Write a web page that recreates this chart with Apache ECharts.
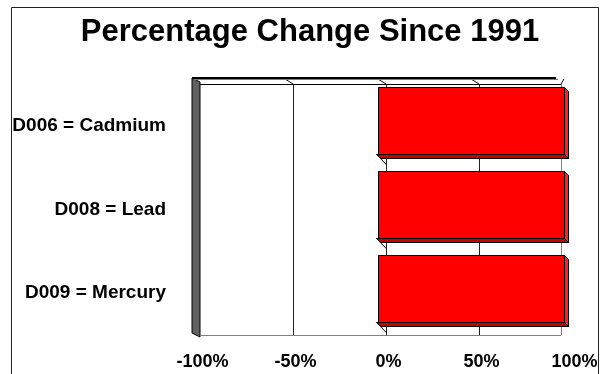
<!DOCTYPE html>
<html>
<head>
<meta charset="utf-8">
<script src="https://cdn.jsdelivr.net/npm/echarts@6/dist/echarts.min.js"></script>
<style>
  html, body { margin: 0; padding: 0; background: #fff; }
  #chart { width: 602px; height: 374px; }
</style>
</head>
<body>
<div id="chart"></div>
<script>
// Percentage change per constituent since 1991
const titleText = 'Percentage Change Since 1991';
const categories = ['D006 = Cadmium', 'D008 = Lead', 'D009 = Mercury'];
const changeValues = [100, 100, 100];
const tickValues = [-100, -50, 0, 50, 100];
const axisMin = -100;
const axisMax = 100;
const axisStep = 50;

const FONT = '"Liberation Sans", Arial, Helvetica, sans-serif';
// depth offset of the back plane of the pseudo-3D box
const DEPTH_X = 8, DEPTH_Y = 5;
// depth offset of the bar blocks
const BAR_DX = 4, BAR_DY = 4;

const chart = echarts.init(document.getElementById('chart'), null, { renderer: 'canvas' });

// snap to pixel centres so 1px lines stay crisp
function crisp(v) { return Math.round(v) + 0.5; }

// walls, floor edge and back gridlines of the box
function renderBox(params, api) {
  const band = api.size([0, 1])[1];
  const first = api.coord([axisMin, 0]);
  const last = api.coord([axisMin, categories.length - 1]);
  const top = Math.round(first[1] - band / 2);
  const bottom = Math.round(last[1] + band / 2);
  const xl = Math.round(first[0]);
  const xr = Math.round(api.coord([axisMax, 0])[0]);
  const children = [];

  // left side wall
  children.push({
    type: 'polygon',
    shape: { points: [[xl, top - 1], [xl + DEPTH_X, top + 3], [xl + DEPTH_X, bottom + DEPTH_Y + 2], [xl, bottom + 3]] },
    style: { fill: '#606060', stroke: '#000', lineWidth: 1 }
  });
  // back top edge
  children.push({
    type: 'line',
    shape: { x1: xl + DEPTH_X, y1: crisp(top + DEPTH_Y), x2: xr - 2, y2: crisp(top + DEPTH_Y) },
    style: { stroke: '#000', lineWidth: 1 }
  });
  // floor back edge
  children.push({
    type: 'line',
    shape: { x1: xl + DEPTH_X, y1: crisp(bottom + DEPTH_Y), x2: xr - 3, y2: crisp(bottom + DEPTH_Y) },
    style: { stroke: '#808080', lineWidth: 1 }
  });
  tickValues.forEach(function (v) {
    const x = Math.round(api.coord([v, 0])[0]);
    if (v > axisMin) {
      const bx = v === axisMax ? x - 3 : x + DEPTH_X;
      children.push({
        type: 'line',
        shape: { x1: crisp(bx), y1: top + DEPTH_Y, x2: crisp(bx), y2: bottom + DEPTH_Y },
        style: { stroke: v === axisMax ? '#808080' : '#202020', lineWidth: 1 }
      });
      children.push({
        type: 'line',
        shape: { x1: x, y1: top, x2: bx, y2: top + DEPTH_Y },
        style: { stroke: '#000', lineWidth: 1 }
      });
    }
  });
  // front top edge
  children.push({
    type: 'line',
    shape: { x1: xl, y1: top - 1, x2: xr - 8, y2: top - 1 },
    style: { stroke: '#000', lineWidth: 2 }
  });
  children.push({
    type: 'line',
    shape: { x1: xl + 2, y1: top + 0.5, x2: xr - 6, y2: top + 0.5 },
    style: { stroke: '#7a7a7a', lineWidth: 1 }
  });
  return { type: 'group', children: children };
}

// bar blocks: front face, under face, right end face and the gridline
// running from the bar's lower-left corner back to the wall
function renderBar(params, api) {
  const idx = api.value(1);
  const start = api.coord([0, idx]);
  const end = api.coord([api.value(0), idx]);
  const band = api.size([0, 1])[1];
  const h = band * 0.8;
  const x0 = Math.round(start[0]) + 0.5, x1 = Math.round(end[0]) + 0.5;
  const yt = Math.round(start[1] - h / 2) + 0.5, yb = Math.round(start[1] + h / 2) + 0.5;
  return {
    type: 'group',
    children: [
      {
        type: 'line',
        shape: { x1: x0, y1: yb + 2, x2: x0 + DEPTH_X, y2: yb + band * 0.1 + DEPTH_Y - 3 },
        style: { stroke: '#000', lineWidth: 1 }
      },
      {
        type: 'polygon',
        shape: { points: [[x0 - 2, yb], [x1, yb], [x1 + BAR_DX, yb + BAR_DY], [x0 + BAR_DX - 2, yb + BAR_DY]] },
        style: { fill: '#c80000', stroke: '#000', lineWidth: 1 }
      },
      {
        type: 'polygon',
        shape: { points: [[x1, yt], [x1 + BAR_DX, yt + BAR_DY], [x1 + BAR_DX, yb + BAR_DY], [x1, yb]] },
        style: { fill: '#ff2020', stroke: '#000', lineWidth: 1 }
      },
      {
        type: 'rect',
        shape: { x: x0, y: yt, width: x1 - x0, height: yb - yt },
        style: { fill: '#ff0000', stroke: '#000', lineWidth: 1 }
      }
    ]
  };
}

chart.setOption({
  backgroundColor: '#ffffff',
  animation: false,
  graphic: [
    {
      type: 'text',
      x: 310,
      y: 32,
      style: {
        text: titleText,
        font: 'bold 31px ' + FONT,
        fill: '#000',
        textAlign: 'center',
        textVerticalAlign: 'middle'
      },
      silent: true
    },
    {
      type: 'rect',
      shape: { x: 11.5, y: 7.5, width: 587, height: 420 },
      style: { fill: 'none', stroke: '#222', lineWidth: 1 },
      silent: true,
      z: 100
    }
  ],
  grid: { left: 192, right: 38, top: 79, bottom: 44, containLabel: false },
  xAxis: {
    type: 'value',
    min: axisMin,
    max: axisMax,
    interval: axisStep,
    axisLine: { show: false },
    axisTick: { show: false },
    splitLine: { show: false },
    axisLabel: {
      formatter: '{value}%',
      fontFamily: FONT,
      fontSize: 18,
      fontWeight: 'bold',
      color: '#000',
      margin: 23,
      padding: [0, 0, 0, 21]
    }
  },
  yAxis: {
    type: 'category',
    data: categories,
    inverse: true,
    axisLine: { show: false },
    axisTick: { show: false },
    splitLine: { show: false },
    axisLabel: {
      fontFamily: FONT,
      fontSize: 19,
      fontWeight: 'bold',
      color: '#000',
      margin: 26,
      verticalAlign: 'top',
      lineHeight: 10
    }
  },
  series: [
    {
      type: 'custom',
      name: 'box',
      renderItem: renderBox,
      data: [[axisMin, 0]],
      encode: { x: 0, y: 1 },
      silent: true,
      z: 1
    },
    {
      type: 'custom',
      name: 'Change',
      renderItem: renderBar,
      data: changeValues.map(function (v, i) { return [v, i]; }),
      encode: { x: 0, y: 1 },
      z: 2
    }
  ]
});
</script>
</body>
</html>
